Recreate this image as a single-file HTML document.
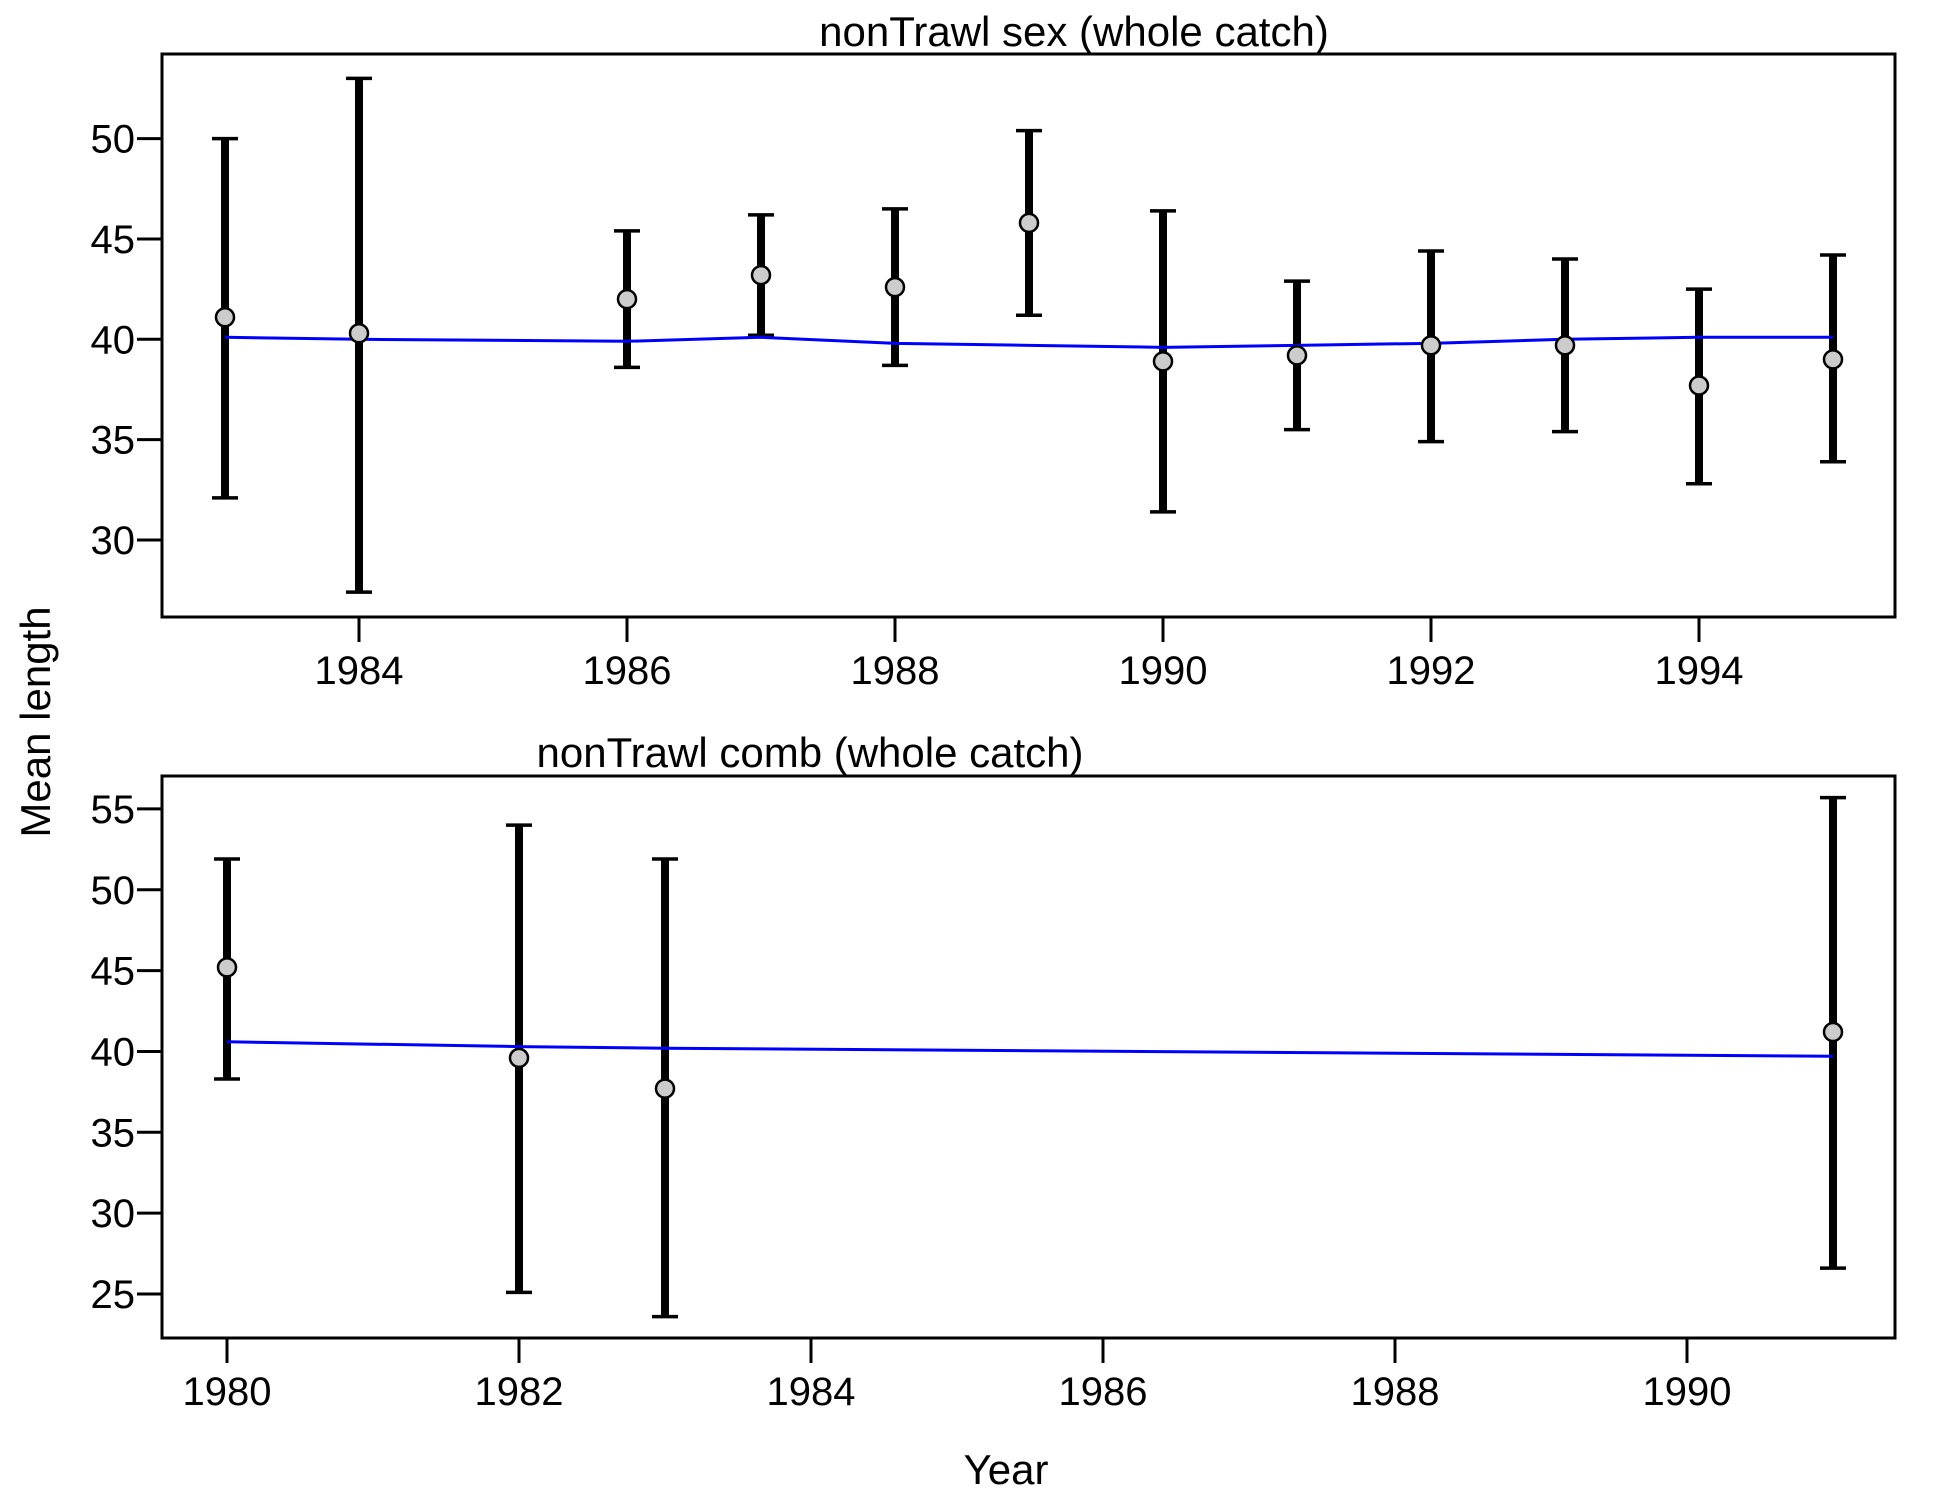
<!DOCTYPE html>
<html><head><meta charset="utf-8"><style>
html,body{margin:0;padding:0;background:#fff;}
svg text{font-family:"Liberation Sans",Arial,sans-serif;fill:#000;}
</style></head><body>
<svg id="chart" width="1950" height="1500" viewBox="0 0 1950 1500" xmlns="http://www.w3.org/2000/svg">
<g id="root"></g>
</svg>
<script>
// Panel 1 data: nonTrawl sex
const years1 = [1983,1984,1986,1987,1988,1989,1990,1991,1992,1993,1994,1995];
const obs1   = [41.1,40.3,42.0,43.2,42.6,45.8,38.9,39.2,39.7,39.7,37.7,39.0];
const lo1    = [32.1,27.4,38.6,40.2,38.7,41.2,31.4,35.5,34.9,35.4,32.8,33.9];
const hi1    = [50.0,53.0,45.4,46.2,46.5,50.4,46.4,42.9,44.4,44.0,42.5,44.2];
const exp1   = [40.1,40.0,39.9,40.1,39.8,39.7,39.6,39.7,39.8,40.0,40.1,40.1];
const xticks1 = [1984,1986,1988,1990,1992,1994];
const yticks1 = [30,35,40,45,50];
// Panel 2 data: nonTrawl comb
const years2 = [1980,1982,1983,1991];
const obs2   = [45.2,39.6,37.7,41.2];
const lo2    = [38.3,25.1,23.6,26.6];
const hi2    = [51.9,54.0,51.9,55.7];
const exp2   = [40.6,40.3,40.2,39.7];
const xticks2 = [1980,1982,1984,1986,1988,1990];
const yticks2 = [25,30,35,40,45,50,55];

const NS='http://www.w3.org/2000/svg';
const root=document.getElementById('root');
function mk(tag,attrs,parent){const e=document.createElementNS(NS,tag);for(const k in attrs)e.setAttribute(k,attrs[k]);(parent||root).appendChild(e);return e;}

function panel(cfg){
  const g=mk('g',{});
  
  
  const L=162,R=1895,T=cfg.top,B=cfg.bottom;
  const xs=v=>cfg.x0+(v-cfg.xv0)*cfg.xpu;
  const ys=v=>cfg.y0-(v-cfg.yv0)*cfg.ypu;
  const box=mk('rect',{x:L,y:T,width:R-L,height:B-T,fill:'none',stroke:'#000','stroke-width':3},g);
  
  
  const ttl=mk('text',{x:cfg.titleX,y:cfg.titleY,'font-size':42,'text-anchor':'middle'},g);
  ttl.textContent=cfg.title;
  
  
  cfg.yticks.forEach(v=>{
    const y=ys(v);
    const t=mk('line',{x1:L-25,x2:L,y1:y,y2:y,stroke:'#000','stroke-width':3},g);
    
    
    const lb=mk('text',{x:L-27,y:y+14,'font-size':40,'text-anchor':'end'},g);
    lb.textContent=v;
    
    
  });
  cfg.xticks.forEach(v=>{
    const x=xs(v);
    const t=mk('line',{x1:x,x2:x,y1:B,y2:B+25,stroke:'#000','stroke-width':3},g);
    
    
    const lb=mk('text',{x:x,y:B+67,'font-size':40,'text-anchor':'middle'},g);
    lb.textContent=v;
    
    
  });
  cfg.years.forEach((yr,i)=>{
    const x=xs(yr);
    const bar=mk('line',{x1:x,x2:x,y1:ys(cfg.lo[i]),y2:ys(cfg.hi[i]),stroke:'#000','stroke-width':8},g);
    
    
    [cfg.lo[i],cfg.hi[i]].forEach(v=>{
      const c=mk('line',{x1:x-13,x2:x+13,y1:ys(v),y2:ys(v),stroke:'#000','stroke-width':3.5},g);
      
      
    });
  });
  const pts=cfg.years.map((yr,i)=>xs(yr)+','+ys(cfg.exp[i])).join(' ');
  const pl=mk('polyline',{points:pts,fill:'none',stroke:'#0000ff','stroke-width':3},g);
  
  
  cfg.years.forEach((yr,i)=>{
    const c=mk('circle',{cx:xs(yr),cy:ys(cfg.obs[i]),r:9,fill:'#cccccc',stroke:'#000','stroke-width':2.5},g);
    
    
  });
}

panel({name:'panel-sex',top:54,bottom:617,title:'nonTrawl sex (whole catch)',titleX:1074,titleY:46,
  x0:225,xv0:1983,xpu:134,y0:540,yv0:30,ypu:20.07,
  years:years1,obs:obs1,lo:lo1,hi:hi1,exp:exp1,xticks:xticks1,yticks:yticks1});
panel({name:'panel-comb',top:776,bottom:1338,title:'nonTrawl comb (whole catch)',titleX:810,titleY:767,
  x0:227,xv0:1980,xpu:146,y0:1294,yv0:25,ypu:16.17,
  years:years2,obs:obs2,lo:lo2,hi:hi2,exp:exp2,xticks:xticks2,yticks:yticks2});

const xl=mk('text',{x:1006,y:1484,'font-size':42,'text-anchor':'middle'});
xl.textContent='Year';


const yl=mk('text',{x:0,y:0,'font-size':42,'text-anchor':'middle',transform:'translate(50,722) rotate(-90)'});
yl.textContent='Mean length';


</script>
</body></html>
